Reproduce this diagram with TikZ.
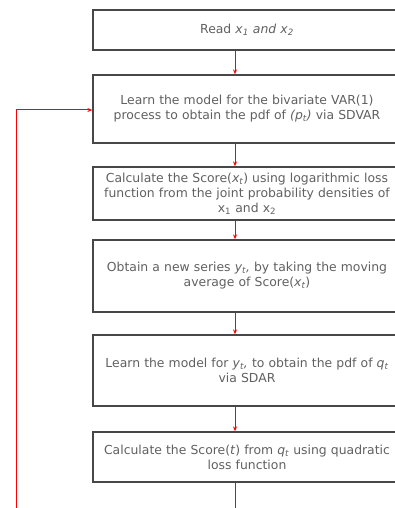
\documentclass[tikz,border=0pt]{standalone}
\usepackage{fontspec}
\setmainfont{DejaVu Sans}
\usetikzlibrary{arrows.meta}
\begin{document}
\begin{tikzpicture}[x=1pt,y=-1pt,
  stepbox/.style={draw=black!72,line width=1.3pt,fill=white,minimum width=308pt,
    text width=304pt,align=center,inner sep=0pt,text=black!62,
    font=\fontsize{12.4}{15}\selectfont},
  redl/.style={draw=red,line width=1pt},
  arr/.style={redl,-{Stealth[length=5pt,width=4pt]}}]
\useasboundingbox (0,0) rectangle (395,508);
\clip (0,0) rectangle (395,508);
\coordinate (ax) at (235,0);
\coordinate (fy) at (0,110);
\coordinate (lb) at (16,530);
\node[stepbox,minimum height=40pt] (b1) at (247,30) {Read \textit{x\textsubscript{1} and x\textsubscript{2}}};
\node[stepbox,minimum height=68pt] (b2) at (247,109) {Learn the model for the bivariate VAR(1)\\ process to obtain the pdf of \textit{(p\textsubscript{t})} via SDVAR};
\node[stepbox,minimum height=53pt] (b3) at (247,193.5) {Calculate the Score(\textit{x\textsubscript{t}}) using logarithmic loss\\ function from the joint probability densities of\\ x\textsubscript{1} and x\textsubscript{2}};
\node[stepbox,minimum height=72pt] (b4) at (247,276) {Obtain a new series \textit{y\textsubscript{t},} by taking the moving\\ average of Score(\textit{x\textsubscript{t}})};
\node[stepbox,minimum height=71pt] (b5) at (247,370.5) {Learn the model for \textit{y\textsubscript{t},} to obtain the pdf of \textit{q\textsubscript{t}}\\ via SDAR};
\node[stepbox,minimum height=50pt] (b6) at (247,457) {Calculate the Score(\textit{t}) from \textit{q\textsubscript{t}} using quadratic\\ loss function};
\draw[arr] (b1.south -| ax) -- (b2.north -| ax);
\draw[arr] (b2.south -| ax) -- (b3.north -| ax);
\draw[arr] (b3.south -| ax) -- (b4.north -| ax);
\draw[arr] (b4.south -| ax) -- (b5.north -| ax);
\draw[arr] (b5.south -| ax) -- (b6.north -| ax);
\draw[redl] (b6.south -| ax) -- (ax |- lb);
\draw[arr] (lb) -- (lb |- fy) -- (b2.west |- fy);
\end{tikzpicture}
\end{document}
